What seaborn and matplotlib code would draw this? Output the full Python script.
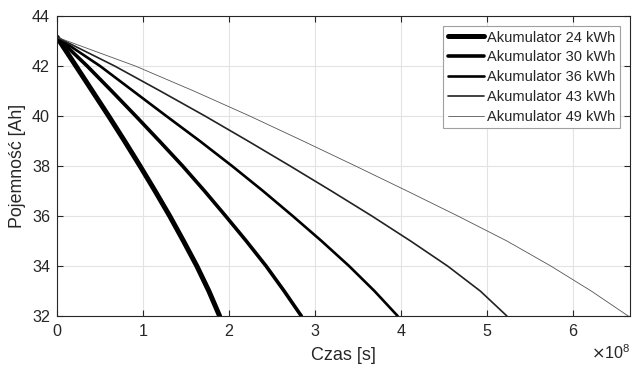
import matplotlib
matplotlib.use("Agg")
import matplotlib.pyplot as plt
import matplotlib.ticker as mticker
import pandas as pd
import seaborn as sns

# Capacity levels [Ah] at which each battery's curve is sampled
capacity = [43.15, 42, 41, 40, 39, 38, 37, 36, 35, 34, 33, 32]

# Time [s] at which each battery reaches the capacity levels above
time_24 = [0, 0.22e8, 0.41e8, 0.60e8, 0.785e8, 0.965e8, 1.14e8, 1.31e8,
           1.47e8, 1.625e8, 1.765e8, 1.89e8]
time_30 = [0, 0.35e8, 0.635e8, 0.915e8, 1.19e8, 1.46e8, 1.715e8, 1.96e8,
           2.20e8, 2.43e8, 2.64e8, 2.84e8]
time_36 = [0, 0.50e8, 0.885e8, 1.27e8, 1.66e8, 2.035e8, 2.395e8, 2.74e8,
           3.075e8, 3.395e8, 3.69e8, 3.96e8]
time_43 = [0, 0.67e8, 1.20e8, 1.72e8, 2.22e8, 2.71e8, 3.19e8, 3.66e8,
           4.11e8, 4.54e8, 4.92e8, 5.23e8]
time_49 = [0, 0.91e8, 1.59e8, 2.24e8, 2.86e8, 3.47e8, 4.07e8, 4.66e8,
           5.23e8, 5.74e8, 6.21e8, 6.64e8]

labels = ["Akumulator 24 kWh", "Akumulator 30 kWh", "Akumulator 36 kWh",
          "Akumulator 43 kWh", "Akumulator 49 kWh"]
series = [time_24, time_30, time_36, time_43, time_49]

x_ticks = [0, 1e8, 2e8, 3e8, 4e8, 5e8, 6e8]
y_ticks = [32, 34, 36, 38, 40, 42, 44]

sns.set_theme(style="whitegrid")
plt.rcParams["font.family"] = ["Liberation Sans", "DejaVu Sans"]

fig = plt.figure(figsize=(6.35, 3.68), dpi=100)
ax = fig.add_axes([0.0898, 0.1413, 0.9022, 0.8152])

widths = [3.6, 2.6, 1.9, 1.2, 0.6]
colors = ["black", "black", "black", "#222222", "#555555"]
for t, lab, lw, c in zip(series, labels, widths, colors):
    df = pd.DataFrame({"t": t, "c": capacity})
    sns.lineplot(data=df, x="t", y="c", ax=ax, color=c, linewidth=lw,
                 label=lab, sort=False, estimator=None)

ax.set_xlim(0, 6.66e8)
ax.set_ylim(32, 44)
ax.set_xticks(x_ticks)
ax.set_yticks(y_ticks)

fmt = mticker.ScalarFormatter(useMathText=True)
fmt.set_powerlimits((8, 8))
ax.xaxis.set_major_formatter(fmt)

ax.set_facecolor("white")
ax.grid(True, color="#e3e3e3", linewidth=0.8)
for s in ax.spines.values():
    s.set_color("#262626")
    s.set_linewidth(0.8)

ax.tick_params(axis="both", which="major", direction="in", length=4,
               width=0.8, color="#262626", labelsize=11.6, labelcolor="#262626",
               top=True, right=True, bottom=True, left=True, pad=5)
ax.xaxis.get_offset_text().set_fontsize(11.6)
ax.xaxis.get_offset_text().set_color("#262626")

ax.set_xlabel("Czas [s]", fontsize=13, color="#262626", labelpad=6)
ax.set_ylabel("Pojemność [Ah]", fontsize=12.8, color="#262626", labelpad=4)

leg = ax.legend(loc="upper right", fontsize=10.5, frameon=True, fancybox=False,
                edgecolor="#a0a0a0", framealpha=1, handlelength=2.5,
                handletextpad=0.2, labelspacing=0.4, borderpad=0.3,
                borderaxespad=0.7)
leg.get_frame().set_linewidth(0.8)
for txt in leg.get_texts():
    txt.set_color("#262626")

fig.savefig("out.png", dpi=100, facecolor="white")
